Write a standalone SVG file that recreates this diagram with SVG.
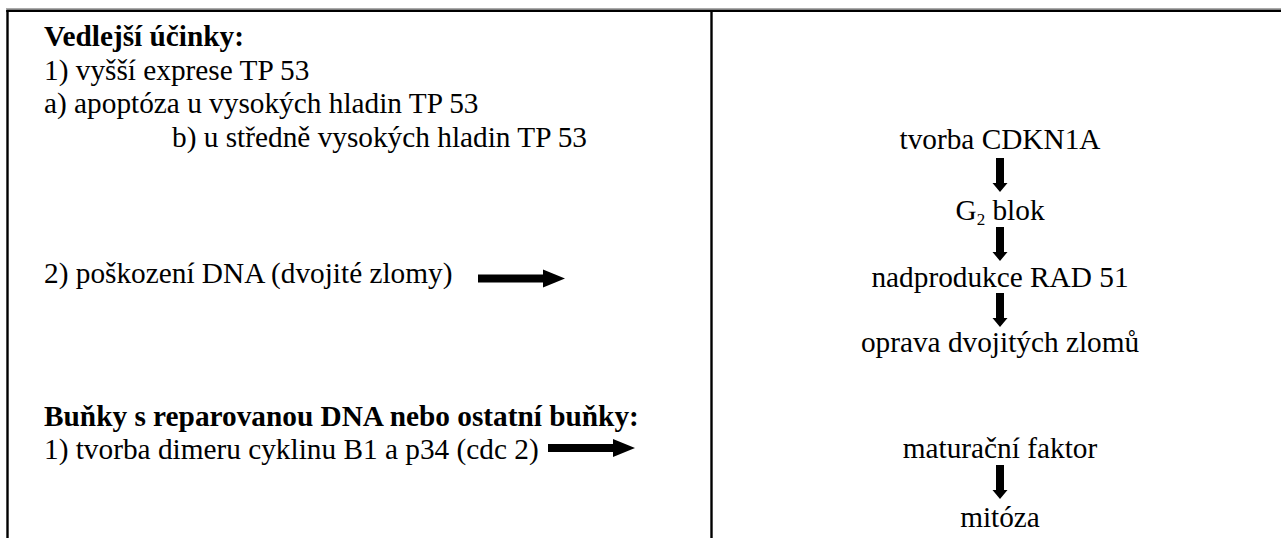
<svg xmlns="http://www.w3.org/2000/svg" width="1281" height="538" viewBox="0 0 1281 538">
<style>
text{font-family:"Liberation Serif","Times New Roman",serif;font-size:29.3px;fill:#000}
.b{font-weight:bold}
.c{text-anchor:middle}
.frame{stroke:#000;stroke-width:2.4;fill:none}
</style>
<defs>
<path id="ha" d="M0,-4 H65 V-9 L87,0 L65,9 V4 H0 Z"/>
<path id="va" d="M-4,0 H4 V25 H7.5 L0,34 L-7.5,25 H-4 Z"/>
</defs>
<rect width="1281" height="538" fill="#fff"/>
<g id="frame">
<line x1="6" y1="8.5" x2="1281" y2="8.5" stroke="#aaa" stroke-width="1"/>
<line class="frame" x1="6.3" y1="10.8" x2="1281" y2="10.8"/>
<line class="frame" x1="7.5" y1="10" x2="7.5" y2="538"/>
<line class="frame" x1="711.5" y1="10" x2="711.5" y2="538"/>
</g>
<g id="left">
<text class="b" x="44" y="46">Vedlejší účinky:</text>
<text x="44" y="79.5">1) vyšší exprese TP 53</text>
<text x="44" y="113">a) apoptóza u vysokých hladin TP 53</text>
<text x="172" y="146.5">b) u středně vysokých hladin TP 53</text>
<text x="44" y="283">2) poškození DNA (dvojité zlomy)</text>
<text class="b" x="44" y="426">Buňky s reparovanou DNA nebo ostatní buňky:</text>
<text x="44" y="459">1) tvorba dimeru cyklinu B1 a p34 (cdc 2)</text>
</g>
<g id="right">
<text class="c" x="1000" y="149">tvorba CDKN1A</text>
<text class="c" x="1000" y="220">G<tspan font-size="17" dy="5">2</tspan><tspan dy="-5"> blok</tspan></text>
<text class="c" x="1000" y="287">nadprodukce RAD 51</text>
<text class="c" x="1000" y="352">oprava dvojitých zlomů</text>
<text class="c" x="1000" y="458">maturační faktor</text>
<text class="c" x="1000" y="527">mitóza</text>
</g>
<g id="connectors">
<use href="#ha" x="478" y="278.5"/>
<use href="#ha" x="548" y="448"/>
<use href="#va" x="1000" y="158"/>
<use href="#va" x="1000" y="227"/>
<use href="#va" x="1000" y="293"/>
<use href="#va" x="1000" y="465"/>
</g>
</svg>
